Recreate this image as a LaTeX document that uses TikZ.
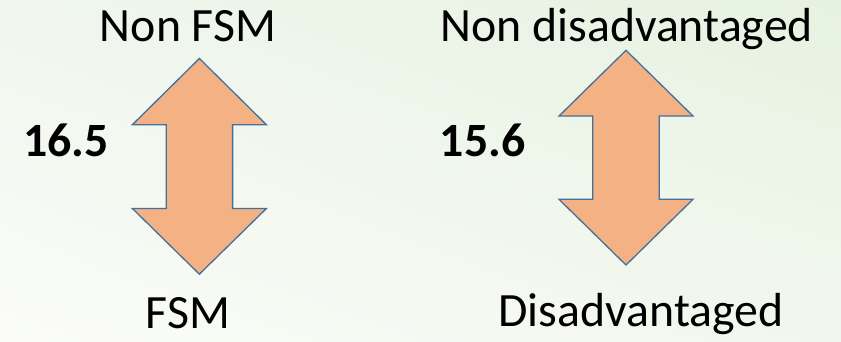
\documentclass[tikz,border=0pt]{standalone}
\usepackage{fontspec}
\setmainfont{Carlito}
\usetikzlibrary{shadings}
\definecolor{bgTL}{HTML}{F0F6EE}
\definecolor{bgTR}{HTML}{E6F2E0}
\definecolor{bgBL}{HTML}{FBFCF8}
\definecolor{bgBR}{HTML}{F2F7EE}
\definecolor{arrowfill}{HTML}{F4B183}
\definecolor{arrowline}{HTML}{41719C}
\tikzset{
  label text/.style={inner sep=0pt, anchor=base, font=\fontsize{47.8}{52}\selectfont},
  value text/.style={inner sep=0pt, anchor=base west, font=\fontsize{47.8}{52}\selectfont\bfseries},
  updown/.style={fill=arrowfill, draw=arrowline, line width=1.3pt, line join=miter}
}
% draws a two-headed vertical arrow: #1 centre x, #2 top tip, #3 upper head base,
% #4 lower head base, #5 bottom tip
\newcommand{\twoheadarrow}[5]{%
  \draw[updown] (#1,#2) -- (#1+67,#3) -- (#1+33.2,#3) -- (#1+33.2,#4) -- (#1+67,#4)
    -- (#1,#5) -- (#1-67,#4) -- (#1-33.2,#4) -- (#1-33.2,#3) -- (#1-67,#3) -- cycle;}
\begin{document}
\begin{tikzpicture}[x=1pt, y=-1pt]
  \useasboundingbox (0,0) rectangle (841,341);
  \shade[upper left=bgTL, upper right=bgTR, lower left=bgBL, lower right=bgBR]
    (0,0) rectangle (841,341);

  % FSM pair
  \twoheadarrow{199.4}{58.5}{124.7}{208.5}{274.2}
  \node[label text] (nonfsm) at (188,41.7) {Non FSM};
  \node[label text] (fsm) at (188,328) {FSM};
  \node[value text] (gapfsm) at (23,156) {16.5};

  % Disadvantaged pair
  \twoheadarrow{626}{50.3}{116}{199.3}{265}
  \node[label text] (nondis) at (626.7,41.7) {Non disadvantaged};
  \node[label text] (dis) at (641,326.7) {Disadvantaged};
  \node[value text] (gapdis) at (439.7,156.7) {15.6};
\end{tikzpicture}
\end{document}
